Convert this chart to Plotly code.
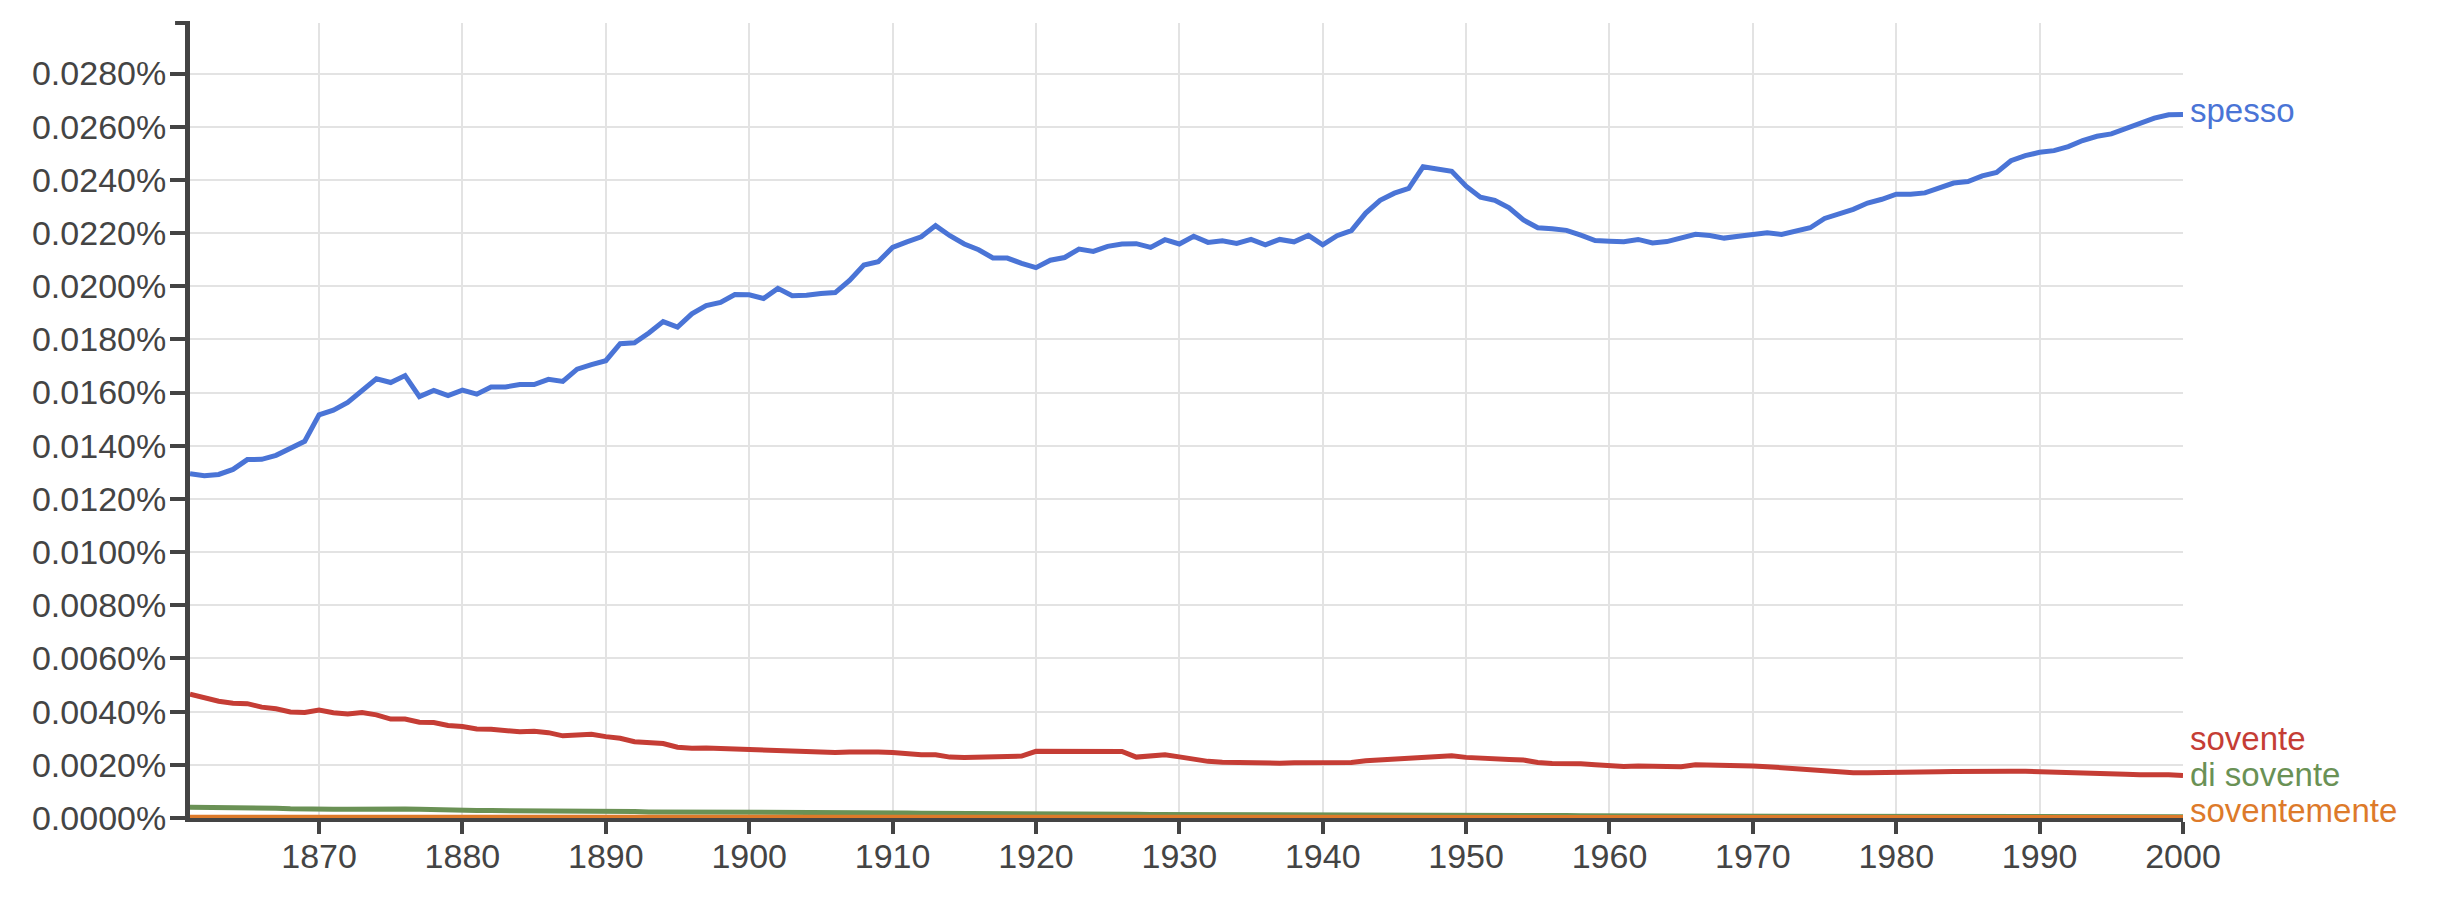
import plotly.graph_objects as go

# Years (x categories)
years = list(range(1861, 2001))

# Values in units of 0.001 %  (converted to % below)
spesso = [
    12.95, 12.87, 12.92, 13.11, 13.48, 13.49, 13.64, 13.89, 14.17, 15.16,
    15.34, 15.63, 16.06, 16.52, 16.38, 16.64, 15.85, 16.08, 15.89, 16.09,
    15.94, 16.21, 16.21, 16.30, 16.30, 16.50, 16.42, 16.88, 17.05, 17.20,
    17.84, 17.87, 18.24, 18.67, 18.46, 18.96, 19.27, 19.39, 19.69, 19.68,
    19.54, 19.92, 19.64, 19.66, 19.73, 19.76, 20.22, 20.80, 20.92, 21.46,
    21.67, 21.86, 22.28, 21.90, 21.59, 21.37, 21.06, 21.06, 20.86, 20.70,
    20.98, 21.08, 21.40, 21.31, 21.50, 21.59, 21.60, 21.46, 21.75, 21.59,
    21.88, 21.65, 21.71, 21.61, 21.76, 21.56, 21.76, 21.67, 21.91, 21.56,
    21.90, 22.09, 22.75, 23.23, 23.50, 23.68, 24.49, 24.40, 24.32, 23.76,
    23.35, 23.23, 22.95, 22.49, 22.20, 22.16, 22.10, 21.92, 21.72, 21.69,
    21.67, 21.76, 21.63, 21.68, 21.82, 21.95, 21.91, 21.81, 21.88, 21.95,
    22.01, 21.95, 22.07, 22.20, 22.55, 22.73, 22.89, 23.13, 23.27, 23.46,
    23.46, 23.51, 23.71, 23.88, 23.94, 24.15, 24.28, 24.72, 24.91, 25.04,
    25.10, 25.25, 25.48, 25.64, 25.73, 25.92, 26.11, 26.32, 26.45, 26.46,
]

sovente = [
    4.66, 4.51, 4.39, 4.32, 4.30, 4.17, 4.11, 3.99, 3.97, 4.06,
    3.96, 3.91, 3.97, 3.88, 3.72, 3.72, 3.60, 3.59, 3.48, 3.44,
    3.35, 3.34, 3.29, 3.24, 3.26, 3.21, 3.09, 3.12, 3.15, 3.06,
    3.00, 2.87, 2.85, 2.80, 2.66, 2.62, 2.63, 2.61, 2.61, 2.60,
    2.56, 2.56, 2.51, 2.51, 2.51, 2.46, 2.48, 2.49, 2.48, 2.46,
    2.41, 2.38, 2.38, 2.29, 2.28, 2.29, 2.30, 2.31, 2.33, 2.51,
    2.51, 2.49, 2.50, 2.49, 2.53, 2.50, 2.29, 2.33, 2.38, 2.30,
    2.21, 2.13, 2.10, 2.09, 2.06, 2.05, 2.06, 2.08, 2.09, 2.08,
    2.08, 2.09, 2.15, 2.18, 2.21, 2.26, 2.31, 2.33, 2.34, 2.28,
    2.24, 2.23, 2.20, 2.18, 2.09, 2.05, 2.06, 2.04, 2.00, 1.96,
    1.94, 1.96, 1.96, 1.95, 1.93, 2.00, 2.00, 1.99, 1.98, 1.96,
    1.93, 1.89, 1.83, 1.81, 1.78, 1.74, 1.70, 1.70, 1.70, 1.73,
    1.73, 1.73, 1.74, 1.75, 1.76, 1.78, 1.76, 1.76, 1.76, 1.75,
    1.73, 1.70, 1.69, 1.68, 1.66, 1.65, 1.63, 1.64, 1.63, 1.60,
]

di_sovente = [
    0.40, 0.40, 0.39, 0.39, 0.38, 0.37, 0.37, 0.35, 0.33, 0.32,
    0.33, 0.33, 0.34, 0.33, 0.33, 0.34, 0.33, 0.31, 0.29, 0.28,
    0.28, 0.28, 0.28, 0.28, 0.27, 0.27, 0.26, 0.25, 0.24, 0.24,
    0.24, 0.24, 0.23, 0.23, 0.23, 0.23, 0.23, 0.23, 0.22, 0.22,
    0.21, 0.21, 0.20, 0.20, 0.19, 0.19, 0.19, 0.19, 0.19, 0.19,
    0.19, 0.18, 0.18, 0.17, 0.17, 0.17, 0.16, 0.16, 0.16, 0.16,
    0.15, 0.15, 0.15, 0.14, 0.14, 0.14, 0.14, 0.13, 0.13, 0.13,
    0.13, 0.12, 0.12, 0.12, 0.11, 0.11, 0.11, 0.10, 0.10, 0.10,
    0.10, 0.10, 0.10, 0.10, 0.10, 0.10, 0.10, 0.10, 0.10, 0.10,
    0.09, 0.09, 0.09, 0.09, 0.09, 0.09, 0.09, 0.08, 0.08, 0.08,
    0.08, 0.08, 0.08, 0.08, 0.08, 0.08, 0.07, 0.07, 0.07, 0.07,
    0.07, 0.07, 0.07, 0.07, 0.07, 0.07, 0.07, 0.06, 0.06, 0.06,
    0.06, 0.06, 0.06, 0.06, 0.06, 0.06, 0.06, 0.06, 0.06, 0.06,
    0.06, 0.06, 0.06, 0.06, 0.05, 0.05, 0.05, 0.05, 0.05, 0.05,
]

soventemente = [
    0.03, 0.03, 0.03, 0.03, 0.03, 0.03, 0.03, 0.03, 0.03, 0.03,
    0.03, 0.03, 0.03, 0.03, 0.03, 0.03, 0.03, 0.03, 0.03, 0.03,
    0.03, 0.03, 0.03, 0.03, 0.03, 0.03, 0.03, 0.03, 0.03, 0.03,
    0.02, 0.02, 0.02, 0.02, 0.02, 0.02, 0.02, 0.02, 0.02, 0.02,
    0.02, 0.02, 0.02, 0.02, 0.02, 0.02, 0.02, 0.02, 0.02, 0.02,
    0.02, 0.02, 0.02, 0.02, 0.02, 0.02, 0.02, 0.02, 0.02, 0.02,
    0.02, 0.02, 0.02, 0.02, 0.02, 0.02, 0.02, 0.02, 0.02, 0.02,
    0.02, 0.02, 0.02, 0.02, 0.02, 0.02, 0.02, 0.02, 0.02, 0.02,
    0.02, 0.02, 0.02, 0.02, 0.02, 0.02, 0.02, 0.02, 0.02, 0.02,
    0.02, 0.02, 0.02, 0.02, 0.02, 0.02, 0.02, 0.02, 0.02, 0.02,
    0.02, 0.02, 0.02, 0.02, 0.02, 0.02, 0.02, 0.02, 0.02, 0.02,
    0.02, 0.02, 0.02, 0.02, 0.02, 0.02, 0.02, 0.02, 0.02, 0.02,
    0.02, 0.02, 0.02, 0.02, 0.02, 0.02, 0.02, 0.02, 0.02, 0.02,
    0.02, 0.02, 0.02, 0.02, 0.02, 0.02, 0.02, 0.02, 0.02, 0.02,
]

UNIT = 0.001  # stored values are in thousandths of a percent

series_names = ["spesso", "sovente", "di sovente", "soventemente"]
series_values = [spesso, sovente, di_sovente, soventemente]
series_colors = ["#4a74d6", "#c53d35", "#6a9155", "#dd7a2a"]
label_shifts = [4, 37, 42, 7]

x_ticks = list(range(1870, 2001, 10))
y_ticks = [i * 0.002 for i in range(15)]
y_ticktext = [f"{v:.4f}%" for v in y_ticks]

FONT = "Arial, Liberation Sans, sans-serif"
AXIS_COLOR = "#444444"

fig = go.Figure()
for name, vals, col in zip(series_names, series_values, series_colors):
    fig.add_trace(go.Scatter(
        x=years, y=[v * UNIT for v in vals], mode="lines", name=name,
        line=dict(color=col, width=5), showlegend=False,
    ))

annotations = []
for name, vals, col, shift in zip(series_names, series_values, series_colors, label_shifts):
    annotations.append(dict(
        x=years[-1], y=vals[-1] * UNIT, xref="x", yref="y",
        text=name, showarrow=False, xanchor="left", yanchor="middle",
        xshift=5, yshift=shift, font=dict(family=FONT, size=33, color=col),
    ))

fig.update_layout(
    width=2433, height=894,
    margin=dict(l=182, r=258, t=15, b=84),
    plot_bgcolor="white", paper_bgcolor="white",
    font=dict(family=FONT, size=34, color=AXIS_COLOR),
    annotations=annotations,
    shapes=[dict(type="line", xref="paper", yref="paper", x0=-0.0075, x1=0,
                 y0=1, y1=1, line=dict(color=AXIS_COLOR, width=4))],
    xaxis=dict(
        range=[1861, 2000], tickvals=x_ticks, ticktext=[str(t) for t in x_ticks],
        showgrid=True, gridcolor="#e3e3e3", gridwidth=2,
        showline=True, linecolor=AXIS_COLOR, linewidth=4,
        ticks="outside", ticklen=12, tickwidth=4, tickcolor=AXIS_COLOR,
        ticklabelstandoff=-7,
        zeroline=False, layer="below traces",
        tickfont=dict(family=FONT, size=34, color=AXIS_COLOR),
    ),
    yaxis=dict(
        range=[0, 0.0299], tickvals=y_ticks, ticktext=y_ticktext,
        showgrid=True, gridcolor="#e3e3e3", gridwidth=2,
        showline=True, linecolor=AXIS_COLOR, linewidth=5,
        ticks="outside", ticklen=15, tickwidth=4, tickcolor=AXIS_COLOR,
        ticklabelstandoff=-3,
        zeroline=False, layer="below traces",
        tickfont=dict(family=FONT, size=34, color=AXIS_COLOR),
    ),
)

fig.write_html("out.html")
